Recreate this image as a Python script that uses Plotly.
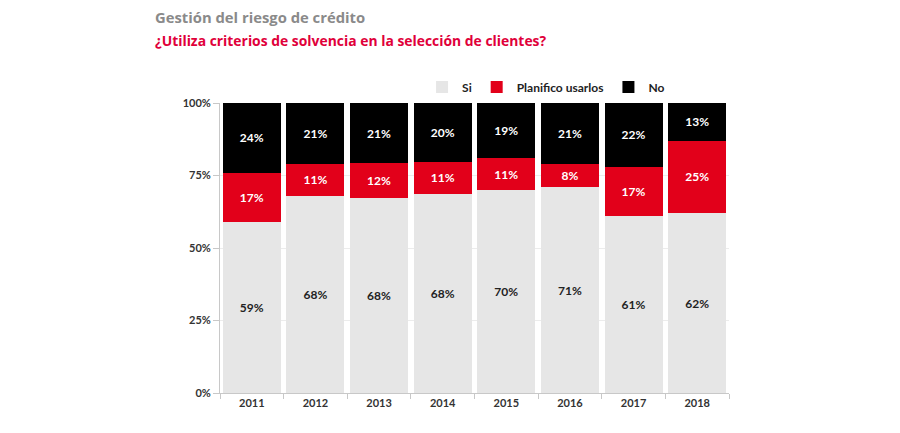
import plotly.graph_objects as go

# Datos
anios = ['2011', '2012', '2013', '2014', '2015', '2016', '2017', '2018']
si = [59, 68, 68, 68, 70, 71, 61, 62]
planifico = [17, 11, 12, 11, 11, 8, 17, 25]
no = [24, 21, 21, 20, 19, 21, 22, 13]
marcas_y = [0, 25, 50, 75, 100]

series = [
    ('Si', si, '#e6e6e6', '#222222'),
    ('Planifico usarlos', planifico, '#e2001a', '#ffffff'),
    ('No', no, '#000000', '#ffffff'),
]

fig = go.Figure()
for nombre, valores, color, color_texto in series:
    fig.add_trace(go.Bar(
        x=anios,
        y=valores,
        name=nombre,
        marker=dict(color=color, line=dict(width=0)),
        text=[f'{v}%' for v in valores],
        textposition='inside',
        insidetextanchor='middle',
        textangle=0,
        constraintext='none',
        textfont=dict(family='Lato', size=12, color=color_texto, weight='bold'),
        hoverinfo='skip',
    ))

# la página tiene 8px de margen propio, por eso el tamaño es algo menor
fig.update_layout(
    barmode='stack',
    barnorm='percent',
    bargap=0.09,
    width=892,
    height=425,
    plot_bgcolor='white',
    paper_bgcolor='white',
    margin=dict(l=212, r=171, t=95, b=40),
    font=dict(family='Lato', size=11, color='#333333'),
    legend=dict(
        orientation='h',
        x=0.397, xanchor='left',
        y=1.055, yanchor='middle',
        font=dict(family='Lato', size=12, color='#222222', weight='bold'),
        itemwidth=30,
        traceorder='normal',
        bgcolor='rgba(0,0,0,0)',
    ),
    annotations=[
        dict(text='Gestión del riesgo de crédito', xref='paper', yref='paper',
             x=-0.1316, y=1.297, xanchor='left', yanchor='middle', showarrow=False,
             font=dict(family='Open Sans', size=14.8, color='#8a8a8a', weight='bold')),
        dict(text='¿Utiliza criterios de solvencia en la selección de clientes?',
             xref='paper', yref='paper',
             x=-0.1316, y=1.217, xanchor='left', yanchor='middle', showarrow=False,
             font=dict(family='Open Sans', size=13.9, color='#e0003a', weight='bold')),
    ],
)

fig.update_yaxes(
    range=[0, 100],
    tickvals=marcas_y,
    ticktext=[f'{v}%' for v in marcas_y],
    ticks='outside',
    ticklen=6,
    tickcolor='#c8c8c8',
    showline=True,
    linecolor='#c8c8c8',
    showgrid=True,
    gridcolor='#ececec',
    zeroline=False,
    tickfont=dict(family='Lato', size=11, color='#333333', weight='bold'),
)
fig.update_xaxes(
    tickson='boundaries',
    ticks='outside',
    ticklen=5,
    tickcolor='#c8c8c8',
    showline=True,
    linecolor='#c8c8c8',
    showgrid=False,
    tickfont=dict(family='Lato', size=11, color='#333333', weight='bold'),
)

fig.write_html('out.html')
